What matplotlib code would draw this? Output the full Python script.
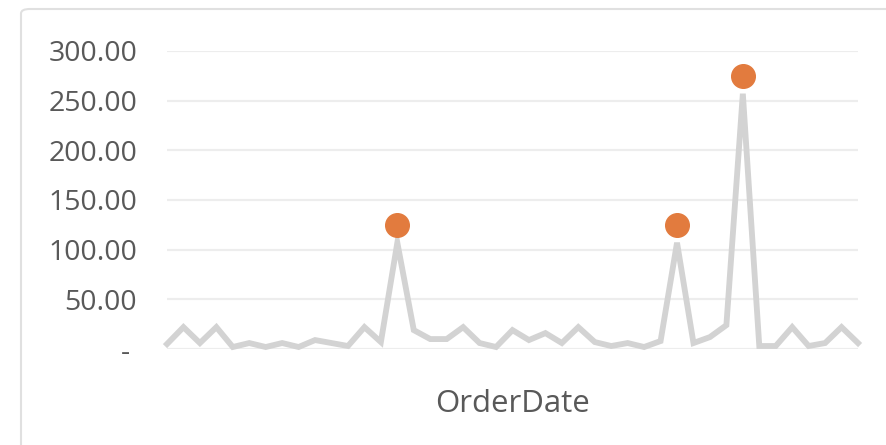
import numpy as np
import matplotlib.pyplot as plt
from matplotlib.patches import FancyBboxPatch

# values (one per order date)
sales = [5, 22, 6, 22, 2, 6, 2, 6, 2, 9, 6, 3, 22, 7, 107,
         19, 10, 10, 22, 6, 2, 19, 9, 16, 6, 22, 7, 3, 6, 2,
         8, 107, 6, 12, 24, 257, 3, 3, 22, 3, 6, 22, 6]
# highlighted points (outliers)
peak_idx = [14, 31, 35]
peak_val = [125, 125, 275]

yticks = [0, 50, 100, 150, 200, 250, 300]
ylabels = ['- ', '50.00', '100.00', '150.00', '200.00', '250.00', '300.00']

plt.rcParams['font.family'] = ['Open Sans', 'DejaVu Sans']

fig = plt.figure(figsize=(8.86, 4.45), dpi=100)

# light card border
border = FancyBboxPatch((21 / 886, -0.2), 1.2, (445 - 9) / 445 + 0.2,
                        boxstyle="round,pad=0,rounding_size=0.01",
                        transform=fig.transFigure, fill=False,
                        edgecolor='#E0E0E0', linewidth=1.5)
fig.patches.append(border)

ax = fig.add_axes([167 / 886, (445 - 349) / 445, (858 - 167) / 886, (349 - 51) / 445])

x = np.arange(len(sales))
ax.plot(x, sales, color='#D3D3D3', linewidth=4.2, solid_joinstyle='miter', zorder=3)
ax.plot(peak_idx, peak_val, linestyle='none', marker='o', markersize=17,
        markerfacecolor='#E27B3E', markeredgecolor='#E27B3E', zorder=4)

ax.set_xlim(0, len(sales) - 1)
ax.set_ylim(0, 300)
ax.set_yticks(yticks)
ax.set_yticklabels(ylabels)
ax.set_xticks([])
ax.tick_params(axis='y', length=0, pad=21.5, labelsize=20.5, labelcolor='#595959')
ax.grid(axis='y', color='#EDEDED', linewidth=1.6, zorder=0)
ax.set_axisbelow(True)
for s in ax.spines.values():
    s.set_visible(False)
for line in ax.lines:
    line.set_clip_on(False)

ax.set_xlabel('OrderDate', fontsize=22.5, color='#595959', labelpad=29)

fig.savefig('out.png', dpi=100)
